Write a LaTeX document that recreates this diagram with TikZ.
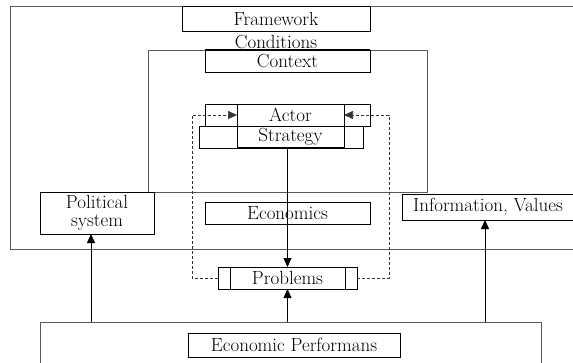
\documentclass[tikz,border=0pt]{standalone}
\usetikzlibrary{arrows.meta}
\begin{document}
\begin{tikzpicture}[x=1pt,y=-1pt,
  every node/.style={font=\fontsize{19}{15}\selectfont, inner sep=0pt, outer sep=0pt},
  box/.style={draw=black, line width=0.8pt, rectangle, anchor=center},
  frame/.style={draw=black!65, line width=1pt},
  arr/.style={-{Triangle[length=9pt,width=8pt]}, line width=0.8pt, black},
  darr/.style={-{Triangle[length=9pt,width=8pt]}, dashed, dash pattern=on 3pt off 2pt, line width=0.6pt, black!80}]
\useasboundingbox (0,0) rectangle (573,362);
\clip (0,0) rectangle (573,362);
% outer frames
\draw[frame] (10.5,6) rectangle (620,249);
\draw[frame] (148,50) rectangle (427,192);
\node[frame, rectangle, minimum width=501pt, minimum height=80pt, anchor=north west] (perf) at (40,322) {};
% boxes
\node[box, minimum width=188pt, minimum height=25pt] (fw) at (276,18.5) {Framework};
\node (cond) at (276,42) {Conditions};
\node[box, minimum width=165pt, minimum height=22pt] (ctx) at (287.5,61) {Context};
\draw[line width=1.4pt] (ctx.north west) -- (ctx.north east);
\node[box, minimum width=165pt, minimum height=22pt] (actoro) at (287.5,115) {};
\node[box, minimum width=107pt, minimum height=22pt] (actor) at (290.5,115) {Actor};
\node[box, minimum width=164pt, minimum height=22pt] (strato) at (281,137) {};
\node[box, minimum width=107pt, minimum height=22pt] (strat) at (290.5,137) {\raisebox{1pt}{Strategy}};
\draw[line width=1.2pt] (strat.south west) -- (strat.south east);
\node[box, minimum width=165pt, minimum height=22pt] (econ) at (287.5,213) {Economics};
\node[box, minimum width=114pt, minimum height=42pt, align=center, font=\fontsize{19}{18}\selectfont] (pol) at (97,213) {Political\\system};
\node[box, minimum width=172pt, minimum height=26pt] (info) at (488,207) {Information, Values};
\node[box, minimum width=139pt, minimum height=22pt] (probo) at (287.5,278) {};
\node[box, minimum width=115pt, minimum height=22pt] (prob) at (287.5,278) {Problems};
\node[box, minimum width=212pt, minimum height=24pt] (ep) at (294,345) {Economic Performans};
% dashed feedback
\coordinate (dl) at (192,115);
\coordinate (dr) at (389,115);
\draw[darr] (probo.west) -| (dl) -- (actor.west);
\draw[darr] (probo.east) -| (dr) -- (actor.east);
% arrows
\draw[arr] (prob.north |- strat.south) -- (prob.north);
\draw[arr] (prob.south |- perf.north) -- (prob.south);
\draw[arr] ([xshift=-6pt]pol.south |- perf.north) -- ([xshift=-6pt]pol.south);
\draw[arr] ([xshift=-3pt]info.south |- perf.north) -- ([xshift=-3pt]info.south);
\end{tikzpicture}
\end{document}
